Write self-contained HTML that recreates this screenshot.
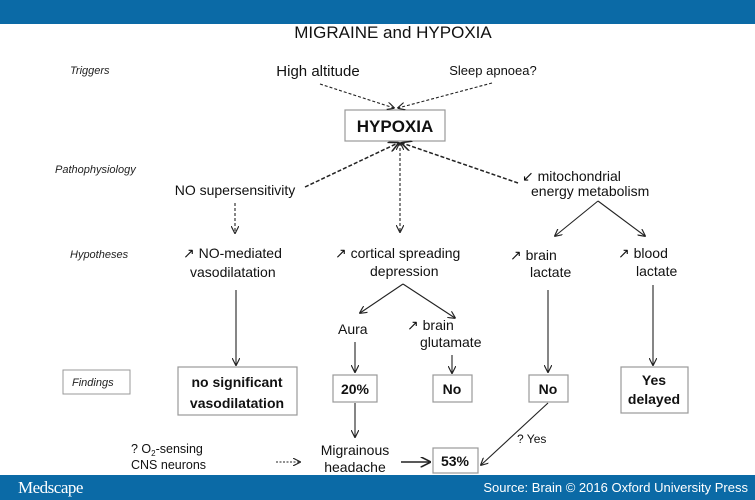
<!DOCTYPE html>
<html><head><meta charset="utf-8"><style>
html,body{margin:0;padding:0;background:#fff;}
svg{display:block;font-family:"Liberation Sans",sans-serif;}
</style></head><body>
<svg width="755" height="500" viewBox="0 0 755 500" xmlns="http://www.w3.org/2000/svg">
<defs>
<marker id="a" viewBox="0 0 10 10" refX="9" refY="5" markerWidth="7" markerHeight="7" orient="auto-start-reverse"><path d="M0,0 L10,5 L0,10" fill="none" stroke="#222" stroke-width="1.5"/></marker>
</defs>
<rect x="0" y="0" width="755" height="24" fill="#0b6aa6"/>
<rect x="0" y="475" width="755" height="25" fill="#0b6aa6"/>
<text x="18" y="493" font-family="Liberation Serif,serif" font-size="17" fill="#fff" letter-spacing="-0.5">Medscape</text>
<text x="748" y="492" font-size="13" fill="#fff" text-anchor="end">Source: Brain © 2016 Oxford University Press</text>
<text x="393" y="38" font-size="17" text-anchor="middle" fill="#111">MIGRAINE and HYPOXIA</text>

<g font-style="italic" font-size="11" fill="#222">
<text x="70" y="74">Triggers</text>
<text x="55" y="173">Pathophysiology</text>
<text x="70" y="258">Hypotheses</text>
</g>
<rect x="63" y="370" width="67" height="24" fill="none" stroke="#999"/>
<text x="72" y="386" font-style="italic" font-size="11" fill="#222">Findings</text>

<g fill="#111" font-size="14">
<text x="318" y="76" text-anchor="middle" font-size="15">High altitude</text>
<text x="493" y="75" text-anchor="middle" font-size="13">Sleep apnoea?</text>
<text x="235" y="195" text-anchor="middle">NO supersensitivity</text>
<text x="522" y="181">↙ mitochondrial</text>
<text x="531" y="196">energy metabolism</text>
<text x="183" y="258">↗ NO-mediated</text>
<text x="190" y="277">vasodilatation</text>
<text x="335" y="258">↗ cortical spreading</text>
<text x="370" y="276">depression</text>
<text x="510" y="260">↗ brain</text>
<text x="530" y="277">lactate</text>
<text x="618" y="258">↗ blood</text>
<text x="636" y="276">lactate</text>
<text x="338" y="334">Aura</text>
<text x="407" y="330">↗ brain</text>
<text x="420" y="347">glutamate</text>
<text x="355" y="455" text-anchor="middle">Migrainous</text>
<text x="355" y="472" text-anchor="middle">headache</text>
<text x="131" y="453" font-size="12.5">? O<tspan font-size="8" dy="3">2</tspan><tspan dy="-3">-sensing</tspan></text>
<text x="131" y="469" font-size="12.5">CNS neurons</text>
<text x="517" y="443" font-size="12">? Yes</text>
</g>

<g fill="none" stroke="#999" stroke-width="1.2">
<rect x="345" y="110" width="100" height="31"/>
<rect x="178" y="367" width="119" height="48"/>
<rect x="333" y="375" width="44" height="27"/>
<rect x="433" y="375" width="39" height="27"/>
<rect x="529" y="375" width="39" height="27"/>
<rect x="621" y="367" width="67" height="46"/>
<rect x="433" y="448" width="45" height="25"/>
</g>
<g fill="#111" font-weight="bold" text-anchor="middle">
<text x="395" y="132" font-size="17">HYPOXIA</text>
<text x="237" y="387" font-size="14">no significant</text>
<text x="237" y="408" font-size="14">vasodilatation</text>
<text x="355" y="394" font-size="14">20%</text>
<text x="452" y="394" font-size="14">No</text>
<text x="548" y="394" font-size="14">No</text>
<text x="654" y="385" font-size="14">Yes</text>
<text x="654" y="404" font-size="14">delayed</text>
<text x="455" y="466" font-size="14">53%</text>
</g>

<g stroke="#222" stroke-width="1.1" fill="none" marker-end="url(#a)">
<line x1="320" y1="84" x2="394" y2="108" stroke-dasharray="3,2"/>
<line x1="492" y1="83" x2="398" y2="108" stroke-dasharray="3,2"/>
<line x1="305" y1="187" x2="398" y2="143" stroke-dasharray="4,2" stroke-width="1.5"/>
<line x1="518" y1="183" x2="402" y2="143" stroke-dasharray="4,2" stroke-width="1.5"/>
<line x1="400" y1="143" x2="400" y2="232" stroke-dasharray="3,2" marker-start="url(#a)"/>
<line x1="235" y1="203" x2="235" y2="233" stroke-dasharray="3,2"/>
<line x1="598" y1="201" x2="555" y2="236"/>
<line x1="598" y1="201" x2="645" y2="236"/>
<line x1="403" y1="284" x2="360" y2="313"/>
<line x1="403" y1="284" x2="455" y2="318"/>
<line x1="236" y1="290" x2="236" y2="365"/>
<line x1="355" y1="342" x2="355" y2="372"/>
<line x1="452" y1="355" x2="452" y2="373"/>
<line x1="548" y1="290" x2="548" y2="372"/>
<line x1="653" y1="285" x2="653" y2="365"/>
<line x1="355" y1="403" x2="355" y2="437"/>
<line x1="276" y1="462" x2="300" y2="462" stroke-dasharray="2,1.5"/>
<line x1="401" y1="462" x2="430" y2="462" stroke-width="1.5"/>
<line x1="548" y1="403" x2="481" y2="465"/>
</g>
</svg>
</body></html>
